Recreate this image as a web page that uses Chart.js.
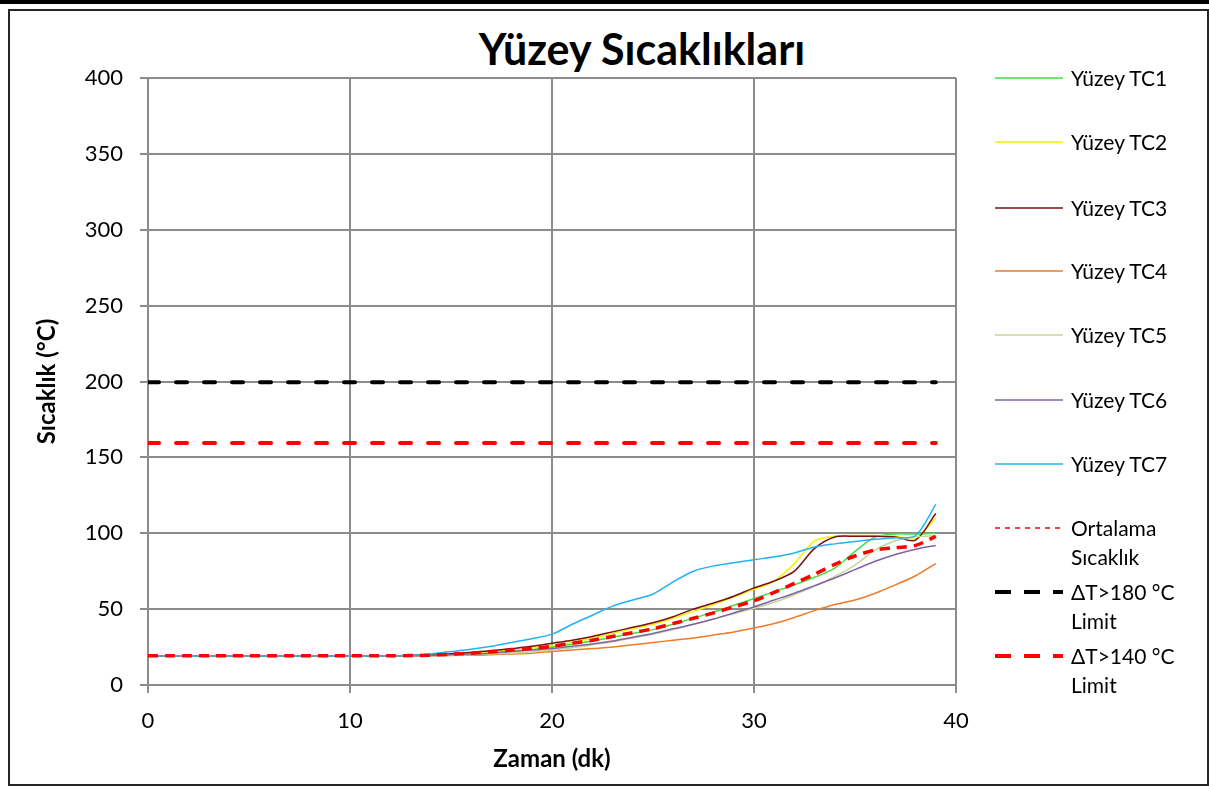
<!DOCTYPE html>
<html>
<head>
<meta charset="utf-8">
<script src="https://cdn.jsdelivr.net/npm/chart.js@4.4.0/dist/chart.umd.min.js"></script>
<style>
body { margin:0; background:#fff; font-family: Lato, sans-serif; overflow:hidden; }
#topbar { position:absolute; left:0; top:0; width:1209px; height:4px; background:#000; }
#frame { position:absolute; left:8px; top:9px; width:1197px; height:773px; border:2px solid #262626; }
#wrap { position:absolute; left:0; top:0; width:1209px; height:786px; }
#title { position:absolute; left:342px; width:600px; top:27px; text-align:center; font-weight:bold; font-size:43px; line-height:43px; color:#000; }
.lg { position:absolute; left:995px; }
.lg svg { position:absolute; left:0; top:0; }
.lg span { position:absolute; left:76px; top:0; font-size:21px; line-height:29px; white-space:nowrap; color:#000; }
</style>
</head>
<body>
<div id="topbar"></div>
<div id="frame"></div>
<div id="title">Yüzey Sıcaklıkları</div>
<div id="wrap"><canvas id="chart-line" width="1209" height="786"></canvas></div>
<div id="legend"></div>
<script>
// zaman (dk)
var times = [0,1,2,3,4,5,6,7,8,9,10,11,12,13,14,15,16,17,18,19,20,21,22,23,24,25,26,27,28,29,30,31,32,33,34,35,36,37,38,39];

var tc1 = [19.3,19.3,19.3,19.3,19.3,19.3,19.3,19.3,19.3,19.3,19.3,19.3,19.3,19.4,19.6,20,20.5,21.3,22.3,23.4,25,27,29,31.5,34,36.5,40,44,48,52.5,57,61.5,66,71,77,88,97.5,99.5,99.5,100];
var tc2 = [19.3,19.3,19.3,19.3,19.3,19.3,19.3,19.3,19.3,19.3,19.3,19.3,19.3,19.4,19.7,20.2,21,22,23,24.3,26,28,31,34,37,40,44,48.5,53,58,63,68.5,80,95,98,98.5,98.5,98,96.5,110];
var tc3 = [19.3,19.3,19.3,19.3,19.3,19.3,19.3,19.3,19.3,19.3,19.3,19.3,19.3,19.5,20,20.6,21.5,22.5,24,25.5,27.5,29.5,32,35,38,41,45,50,54,58.5,64,68.5,75,90,97.5,98,98,97.5,95.5,113];
var tc4 = [19.3,19.3,19.3,19.3,19.3,19.3,19.3,19.3,19.3,19.3,19.3,19.3,19.3,19.3,19.3,19.5,19.6,20,20.5,21,22,23,24,25,26.5,28,29.5,31,33,35,37.5,40.5,44.5,49,53,56,60.5,66,72,80];
var tc5 = [19.3,19.3,19.3,19.3,19.3,19.3,19.3,19.3,19.3,19.3,19.3,19.3,19.3,19.3,19.4,19.6,20,20.5,21,21.7,23,24.5,26.5,28.5,31,33.5,36.5,40,43.5,47,50.5,54.5,59.5,65,71.5,79,89,95,97.5,98.5];
var tc6 = [19.3,19.3,19.3,19.3,19.3,19.3,19.3,19.3,19.3,19.3,19.3,19.3,19.3,19.3,19.5,20,20.5,21,22,23,24,25.5,27,29,31.5,34,37,40,43.5,47.5,51.5,56,60.5,65.5,70.5,76,81.5,86,89.5,92];
var tc7 = [19.3,19.3,19.3,19.3,19.3,19.3,19.3,19.3,19.3,19.3,19.3,19.3,19.3,19.6,20.5,22,23.5,25.5,28,30.5,33.5,40,46,52,56,60,68,75,78.5,80.5,82.5,84.5,87,91,93,94.5,96,97,98.5,119];
var ortalama = [19.3,19.3,19.3,19.3,19.3,19.3,19.3,19.3,19.3,19.3,19.3,19.3,19.3,19.4,19.7,20.3,21,22,23,24,25.5,27.5,29.5,32,34.5,37,40.5,44,47.5,51.5,55.5,61,67,73,79.5,85,89,90.5,92,98];

// limit çizgileri
var limitTimes = [0, 39];
var limit180 = [199.5, 199.5];
var limit140 = [159.5, 159.5];

var xTicks = [0, 10, 20, 30, 40];
var yTicks = [0, 50, 100, 150, 200, 250, 300, 350, 400];

function pts(xs, ys) {
  return xs.map(function (x, i) { return { x: x, y: ys[i] }; });
}

var series = [
  { label: 'Yüzey TC1', data: tc1, color: '#44dd44' },
  { label: 'Yüzey TC2', data: tc2, color: '#f2f200' },
  { label: 'Yüzey TC3', data: tc3, color: '#7b1010' },
  { label: 'Yüzey TC4', data: tc4, color: '#ee7a2a' },
  { label: 'Yüzey TC5', data: tc5, color: '#c3d69b' },
  { label: 'Yüzey TC6', data: tc6, color: '#8064a2' },
  { label: 'Yüzey TC7', data: tc7, color: '#1fb4f0' }
];

var datasets = series.map(function (s, i) {
  return {
    label: s.label,
    data: pts(times, s.data),
    borderColor: s.color,
    borderWidth: 1.5,
    pointRadius: 0,
    tension: 0.3,
    fill: false,
    order: 20 - i
  };
});
datasets.push({
  label: 'Ortalama Sıcaklık',
  data: pts(times, ortalama),
  borderColor: '#ff0000',
  borderWidth: 3.5,
  borderDash: [10, 7],
  pointRadius: 0,
  tension: 0.3,
  fill: false,
  order: 5
});
datasets.push({
  label: 'ΔT>180 °C Limit',
  data: pts(limitTimes, limit180),
  borderColor: '#000000',
  borderWidth: 4,
  borderDash: [11, 17],
  borderCapStyle: 'round',
  pointRadius: 0,
  fill: false,
  order: 4
});
datasets.push({
  label: 'ΔT>140 °C Limit',
  data: pts(limitTimes, limit140),
  borderColor: '#ff0000',
  borderWidth: 4,
  borderDash: [11, 17],
  borderCapStyle: 'round',
  pointRadius: 0,
  fill: false,
  order: 3
});

Chart.defaults.font.family = 'Lato';
Chart.defaults.color = '#000';

var gridColor = '#8c8c8c';
var ctx = document.getElementById('chart-line').getContext('2d');
new Chart(ctx, {
  type: 'line',
  data: { datasets: datasets },
  options: {
    responsive: false,
    animation: false,
    layout: { padding: { left: 0, right: 253, top: 78, bottom: 0 } },
    plugins: {
      legend: { display: false },
      tooltip: { enabled: false }
    },
    scales: {
      x: {
        type: 'linear',
        min: 0,
        max: 40,
        afterFit: function (scale) { scale.height = 101; },
        afterBuildTicks: function (scale) { scale.ticks = xTicks.map(function (v) { return { value: v }; }); },
        grid: { color: gridColor, lineWidth: 2, tickLength: 8 },
        border: { color: gridColor, width: 2 },
        ticks: { padding: 15, font: { size: 22 } },
        title: { display: true, text: 'Zaman (dk)', font: { size: 24, weight: 'bold' }, padding: { top: 0, bottom: 12 } }
      },
      y: {
        min: 0,
        max: 400,
        afterFit: function (scale) { scale.width = 148; },
        afterBuildTicks: function (scale) { scale.ticks = yTicks.map(function (v) { return { value: v }; }); },
        grid: { color: gridColor, lineWidth: 2, tickLength: 8 },
        border: { color: gridColor, width: 2 },
        ticks: { padding: 17, font: { size: 22 } },
        title: { display: true, text: 'Sıcaklık (°C)', font: { size: 24, weight: 'bold' }, padding: { top: 33, bottom: 0 } }
      }
    }
  },
  plugins: [{
    id: 'rightBorder',
    afterDraw: function (chart) {
      var a = chart.chartArea, c = chart.ctx;
      c.save();
      c.strokeStyle = gridColor;
      c.lineWidth = 2;
      c.beginPath();
      c.moveTo(a.right, a.top);
      c.lineTo(a.right, a.bottom);
      c.stroke();
      c.restore();
    }
  }]
});

// lejant
var legendY = [78, 142, 208, 271, 335, 400, 464, 528, 592, 656];
var legendHtml = '';
datasets.forEach(function (d, i) {
  var y = legendY[i];
  var lw = i < 8 ? 1.5 : 4;
  var dash = i < 7 ? '' : (i === 7 ? 'stroke-dasharray="5,5"' : 'stroke-dasharray="16,13" stroke-linecap="butt"');
  var text = d.label.replace('Ortalama ', 'Ortalama<br>').replace(' Limit', '<br>Limit');
  legendHtml += '<div class="lg" style="top:' + (y - 15) + 'px">' +
    '<svg width="72" height="30"><line x1="0" y1="15" x2="68" y2="15" stroke="' + d.borderColor + '" stroke-width="' + lw + '" ' + dash + '/></svg>' +
    '<span>' + text + '</span></div>';
});
document.getElementById('legend').innerHTML = legendHtml;
</script>
</body>
</html>
